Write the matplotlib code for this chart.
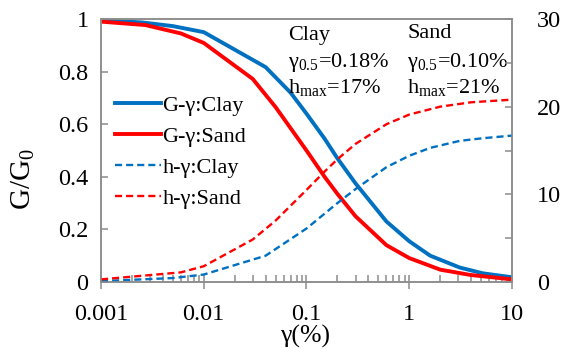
import matplotlib
matplotlib.use("Agg")
import matplotlib.pyplot as plt
from matplotlib.ticker import LogLocator, FixedLocator, NullFormatter

plt.rcParams["font.family"] = ["Liberation Serif", "DejaVu Serif"]
plt.rcParams["mathtext.fontset"] = "custom"
plt.rcParams["mathtext.rm"] = "Liberation Serif"
plt.rcParams["mathtext.it"] = "Liberation Serif:italic"

# Shear modulus reduction G/G0 versus shear strain (%)
strain_g_clay = [0.001, 0.0025, 0.005, 0.01, 0.04, 0.07, 0.1, 0.15, 0.2, 0.3, 0.6, 1.0, 1.6, 3.1, 5.2, 10]
g_clay = [0.995, 0.987, 0.973, 0.95, 0.817, 0.72, 0.64, 0.545, 0.47, 0.375, 0.23, 0.155, 0.10, 0.055, 0.033, 0.018]

strain_g_sand = [0.001, 0.0027, 0.006, 0.01, 0.03, 0.05, 0.1, 0.15, 0.2, 0.3, 0.6, 1.0, 2.0, 3.9, 10]
g_sand = [0.99, 0.977, 0.945, 0.909, 0.772, 0.665, 0.5, 0.40, 0.335, 0.25, 0.14, 0.091, 0.047, 0.027, 0.01]

# Damping ratio h (%) versus shear strain (%)
strain_h_clay = [0.001, 0.005, 0.01, 0.04, 0.1, 0.2, 0.3, 0.6, 1.0, 1.6, 3.1, 5.2, 10]
h_clay = [0.1, 0.45, 0.85, 3.0, 6.1, 9.0, 10.6, 13.1, 14.4, 15.3, 16.1, 16.4, 16.7]

strain_h_sand = [0.001, 0.006, 0.01, 0.03, 0.05, 0.1, 0.15, 0.2, 0.3, 0.6, 1.0, 2.0, 4.0, 10]
h_sand = [0.3, 1.1, 1.8, 4.85, 7.0, 10.5, 12.6, 14.0, 15.75, 18.0, 19.1, 20.0, 20.5, 20.8]

x_ticks = [0.001, 0.01, 0.1, 1, 10]
x_tick_labels = ["0.001", "0.01", "0.1", "1", "10"]
g_ticks = [0, 0.2, 0.4, 0.6, 0.8, 1]
g_tick_labels = ["0", "0.2", "0.4", "0.6", "0.8", "1"]
h_ticks = [0, 5, 10, 15, 20, 25, 30]
h_tick_labels = ["0", "", "10", "", "20", "", "30"]

BLUE = "#0070C0"
RED = "#FF0000"
GRAY = "#8C8C8C"
DASH = (0, (3.0, 1.7))

fig = plt.figure(figsize=(5.63, 3.49), dpi=100)
ax = fig.add_axes([101 / 563, 1 - 282 / 349, 411 / 563, 263 / 349])
ax2 = ax.twinx()

l1, = ax.plot(strain_g_clay, g_clay, color=BLUE, lw=2.8, label="G-γ:Clay")
l2, = ax.plot(strain_g_sand, g_sand, color=RED, lw=2.8, label="G-γ:Sand")
l3, = ax2.plot(strain_h_clay, h_clay, color=BLUE, lw=1.7, ls=DASH, label="h-γ:Clay")
l4, = ax2.plot(strain_h_sand, h_sand, color=RED, lw=1.7, ls=DASH, label="h-γ:Sand")

ax.set_xscale("log")
ax.set_xlim(0.001, 10)
ax.set_ylim(0, 1)
ax2.set_ylim(0, 30)

ax.xaxis.set_major_locator(FixedLocator(x_ticks))
ax.set_xticklabels(x_tick_labels)
ax.xaxis.set_minor_locator(LogLocator(base=10, subs=range(2, 10), numticks=20))
ax.xaxis.set_minor_formatter(NullFormatter())
ax.set_yticks(g_ticks)
ax.set_yticklabels(g_tick_labels)
ax2.set_yticks(h_ticks)
ax2.set_yticklabels(h_tick_labels)

for a in (ax, ax2):
    for s in a.spines.values():
        s.set_color(GRAY)
        s.set_linewidth(1.1)

ax.tick_params(axis="x", which="major", direction="inout", length=10, width=1.1,
               color=GRAY, labelsize=17.5, pad=11, top=False)
ax.tick_params(axis="x", which="minor", direction="in", length=5, width=1.1,
               color=GRAY, top=False)
ax.tick_params(axis="y", which="major", direction="in", length=5, width=1.1,
               color=GRAY, labelsize=17.5, pad=9, right=False)
ax2.tick_params(axis="y", which="major", direction="in", length=5, width=1.1,
                color=GRAY, labelsize=17.5, pad=18)

ax.set_ylabel("G/G$_0$", fontsize=21)
ax.yaxis.set_label_coords(-0.155, 0.39)
ax.set_xlabel("γ(%)", fontsize=18.5, va="bottom")
ax.xaxis.set_label_coords(0.497, -0.251)

ax.legend(handles=[l1, l2, l3, l4], loc="upper left", bbox_to_anchor=(-0.005, 0.77),
          frameon=False, fontsize=16, handlelength=2.1, handletextpad=0.05,
          labelspacing=0.47, borderaxespad=0.3)

ann = dict(transform=ax.transAxes, fontsize=16, va="top", ha="left")
ax.text(0.455, 0.975, "Clay", **ann)
ax.text(0.455, 0.878, r"γ$_{\mathrm{0.5}}$=0.18%", **ann)
ax.text(0.455, 0.778, r"h$_{\mathrm{max}}$=17%", **ann)
ax.text(0.745, 0.98, "Sand", **ann)
ax.text(0.745, 0.878, r"γ$_{\mathrm{0.5}}$=0.10%", **ann)
ax.text(0.745, 0.778, r"h$_{\mathrm{max}}$=21%", **ann)

fig.savefig("out.png", dpi=100)
